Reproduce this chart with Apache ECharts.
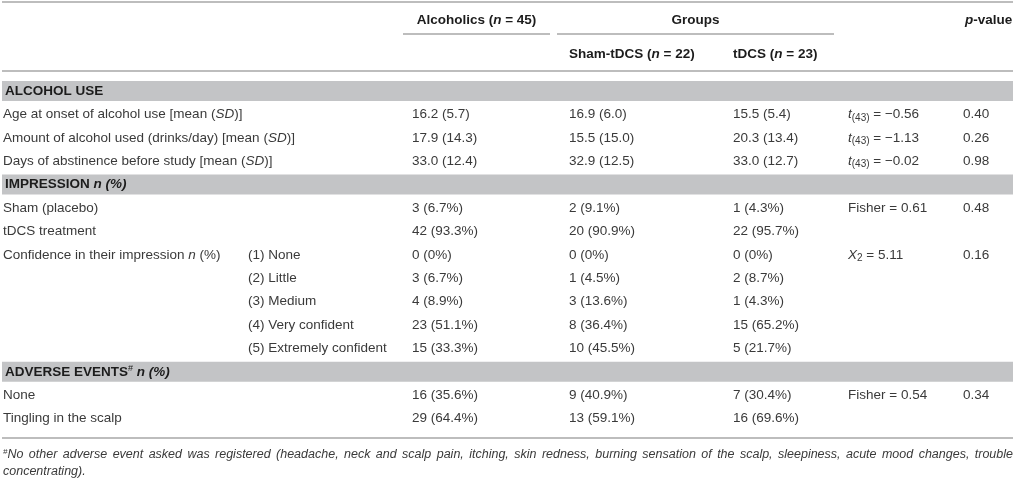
<!DOCTYPE html>
<html><head><meta charset="utf-8">
<script src="https://cdn.jsdelivr.net/npm/echarts@6/dist/echarts.min.js"></script>
<style>html,body{margin:0;padding:0;background:#fff}#c{width:1016px;height:483px}</style>
</head><body><div id="c"></div>
<script>
// ---------- DATA ----------
const headerTop = ['Alcoholics ({bi|n} = 45)', 'Groups', '{bi|p}-value'];
const headerSub = ['Sham-tDCS ({bi|n} = 22)', 'tDCS ({bi|n} = 23)'];
const rowKinds = ['section','row','row','row','section','row','row','row','row','row','row','row','section','row','row'];
const rowLabels = [
  'ALCOHOL USE',
  'Age at onset of alcohol use [mean ({i|SD})]',
  'Amount of alcohol used (drinks/day) [mean ({i|SD})]',
  'Days of abstinence before study [mean ({i|SD})]',
  'IMPRESSION {bi|n (%)}',
  'Sham (placebo)',
  'tDCS treatment',
  'Confidence in their impression {i|n} (%)',
  '', '', '', '',
  'ADVERSE EVENTS{sup|#} {bi|n (%)}',
  'None',
  'Tingling in the scalp'
];
const subLabels = ['', '', '', '', '', '', '', '(1) None', '(2) Little', '(3) Medium', '(4) Very confident', '(5) Extremely confident', '', '', ''];
const alcoholics = ['', '16.2 (5.7)', '17.9 (14.3)', '33.0 (12.4)', '', '3 (6.7%)', '42 (93.3%)', '0 (0%)', '3 (6.7%)', '4 (8.9%)', '23 (51.1%)', '15 (33.3%)', '', '16 (35.6%)', '29 (64.4%)'];
const shamTdcs = ['', '16.9 (6.0)', '15.5 (15.0)', '32.9 (12.5)', '', '2 (9.1%)', '20 (90.9%)', '0 (0%)', '1 (4.5%)', '3 (13.6%)', '8 (36.4%)', '10 (45.5%)', '', '9 (40.9%)', '13 (59.1%)'];
const tdcs = ['', '15.5 (5.4)', '20.3 (13.4)', '33.0 (12.7)', '', '1 (4.3%)', '22 (95.7%)', '0 (0%)', '2 (8.7%)', '1 (4.3%)', '15 (65.2%)', '5 (21.7%)', '', '7 (30.4%)', '16 (69.6%)'];
const statistics = ['', '{i|t}{sub|(43)} = −0.56', '{i|t}{sub|(43)} = −1.13', '{i|t}{sub|(43)} = −0.02', '', 'Fisher = 0.61', '', '{i|X}{sub|2} = 5.11', '', '', '', '', '', 'Fisher = 0.54', ''];
const pValues = ['', '0.40', '0.26', '0.98', '', '0.48', '', '0.16', '', '', '', '', '', '0.34', ''];
const footnoteMark = '#';
const footnoteLine1 = 'No other adverse event asked was registered (headache, neck and scalp pain, itching, skin redness, burning sensation of the scalp, sleepiness, acute mood changes, trouble';
const footnoteLine2 = 'concentrating).';

// ---------- LAYOUT / STYLE ----------
const FONT = '"Liberation Sans", Arial, Helvetica, sans-serif';
const FS = 13.5;
const FN_FS = 12.5;
const TXT = '#3a3a3a', HEAD = '#1c1c1c', BAND = '#c3c4c6', RULE = '#bdbdbd';
const TABLE_L = 2, TABLE_R = 1013;
const COL = {label: 3, sub: 248, alc: 412, sham: 569, tdcs: 733, stat: 848, p: 963};
const richBase = {
  i: {fontStyle: 'italic', fontSize: FS, fontFamily: FONT, color: TXT},
  bi: {fontStyle: 'italic', fontWeight: 'bold', fontSize: FS, fontFamily: FONT, color: HEAD},
  sub: {fontStyle: 'normal', fontSize: 10, fontFamily: FONT, color: TXT, padding: [7, 0, 0, 0]},
  sup: {fontSize: 9, fontFamily: FONT, color: HEAD, padding: [0, 0, 7, 0]}
};
function txt(x, y, text, opts) {
  opts = opts || {};
  return {
    type: 'text', x: x, y: y,
    style: {
      text: text, fontFamily: FONT, fontSize: FS,
      fontWeight: opts.bold ? 'bold' : 'normal',
      fontStyle: opts.italic ? 'italic' : 'normal',
      fill: opts.color || TXT, align: opts.align || 'left', verticalAlign: 'middle',
      rich: richBase
    }
  };
}
function hline(x0, x1, y) {
  return {type: 'line', shape: {x1: x0, y1: y, x2: x1, y2: y}, style: {stroke: RULE, lineWidth: 2}};
}

// justified footnote first line: widen the spaces so the line fills the table width
const measureCtx = document.createElement('canvas').getContext('2d');
function textW(s, size, style) {
  measureCtx.font = (style || '') + ' ' + size + 'px ' + FONT;
  return measureCtx.measureText(s).width;
}
const fnWords = footnoteLine1.split(' ');
const supW = textW(footnoteMark, 8);
const wordsW = fnWords.reduce((a, w) => a + textW(w, FN_FS, 'italic'), 0);
const gapW = Math.max(3, (TABLE_R - 3 - supW - wordsW) / (fnWords.length - 1));
const footnoteText = '{sup|' + footnoteMark + '}' + fnWords.join('{sp| }') + '\n' + footnoteLine2;

function renderHeader(params, api) {
  const r = api.value(1);
  const y = api.coord([0, r])[1];
  const step = api.size([0, 1])[1];
  const X = v => api.coord([v, r])[0];
  const ch = [];
  if (r === 0) {
    ch.push(hline(X(TABLE_L), X(TABLE_R), y - step / 2 - 1));
    ch.push(txt(X(476.5), y, headerTop[0], {bold: true, color: HEAD, align: 'center'}));
    ch.push(txt(X(695.5), y, headerTop[1], {bold: true, color: HEAD, align: 'center'}));
    ch.push(txt(X(COL.p + 2), y, headerTop[2], {bold: true, color: HEAD}));
    ch.push(hline(X(403), X(550), y + 14));
    ch.push(hline(X(557), X(834), y + 14));
  } else {
    ch.push(txt(X(COL.sham), y, headerSub[0], {bold: true, color: HEAD}));
    ch.push(txt(X(COL.tdcs), y, headerSub[1], {bold: true, color: HEAD}));
    ch.push(hline(X(TABLE_L), X(TABLE_R), y + step / 2));
  }
  return {type: 'group', children: ch};
}

function renderBody(params, api) {
  const r = api.value(1);
  const y = api.coord([0, r])[1];
  const X = v => api.coord([v, r])[0];
  const ch = [];
  if (rowKinds[r] === 'section') {
    ch.push({type: 'rect', shape: {x: X(TABLE_L), y: y - 10, width: X(TABLE_R) - X(TABLE_L), height: 20}, style: {fill: BAND}});
    ch.push(txt(X(COL.label + 2), y, rowLabels[r], {bold: true, color: HEAD}));
  } else {
    ch.push(txt(X(COL.label), y, rowLabels[r]));
    ch.push(txt(X(COL.sub), y, subLabels[r]));
    ch.push(txt(X(COL.alc), y, alcoholics[r]));
    ch.push(txt(X(COL.sham), y, shamTdcs[r]));
    ch.push(txt(X(COL.tdcs), y, tdcs[r]));
    ch.push(txt(X(COL.stat), y, statistics[r]));
    ch.push(txt(X(COL.p), y, pValues[r]));
  }
  if (r === rowKinds.length - 1) ch.push(hline(X(TABLE_L), X(TABLE_R), y + 19.5));
  return {type: 'group', children: ch};
}

const chart = echarts.init(document.getElementById('c'), null, {renderer: 'canvas'});
chart.setOption({
  backgroundColor: '#fff',
  animation: false,
  title: {
    text: footnoteText, left: 3, top: 446, padding: 0,
    textStyle: {fontFamily: FONT, fontSize: FN_FS, fontStyle: 'italic', fontWeight: 'normal', color: '#3a3a3a', lineHeight: 17,
      rich: {
        sup: {fontSize: 8, fontStyle: 'italic', fontFamily: FONT, color: '#3a3a3a', padding: [0, 0, 6, 0]},
        sp: {width: gapW, fontSize: FN_FS, fontFamily: FONT}
      }}
  },
  grid: [
    {left: 0, right: 0, top: 3, height: 68},
    {left: 0, right: 0, top: 79.3, height: 351}
  ],
  xAxis: [
    {type: 'value', min: 0, max: 1016, show: false, gridIndex: 0},
    {type: 'value', min: 0, max: 1016, show: false, gridIndex: 1}
  ],
  yAxis: [
    {type: 'category', data: ['header', 'subheader'], inverse: true, show: false, gridIndex: 0},
    {type: 'category', data: rowLabels.map((_, i) => 'row' + i), inverse: true, show: false, gridIndex: 1}
  ],
  series: [
    {type: 'custom', xAxisIndex: 0, yAxisIndex: 0, renderItem: renderHeader, data: [[0, 0], [0, 1]], silent: true},
    {type: 'custom', xAxisIndex: 1, yAxisIndex: 1, renderItem: renderBody, data: rowLabels.map((_, i) => [0, i]), silent: true}
  ]
});
</script></body></html>
